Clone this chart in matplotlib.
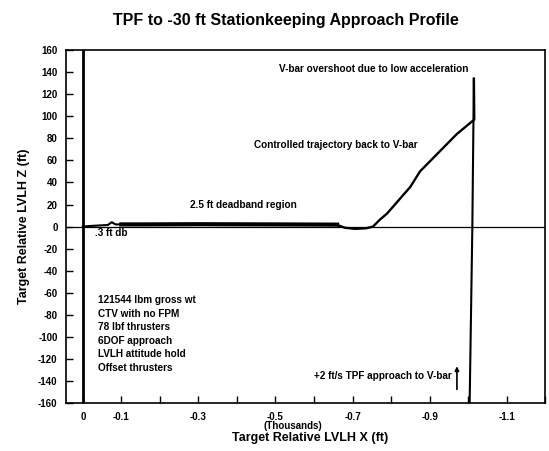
import matplotlib
matplotlib.use("Agg")
import matplotlib.pyplot as plt

plt.rcParams['font.family'] = ['Liberation Sans', 'DejaVu Sans']
plt.rcParams['font.weight'] = 'bold'
plt.rcParams['axes.unicode_minus'] = False

# Approach along the V-bar from below (thousands of ft, ft)
approach_x = [-1.004, -1.011, -1.015]
approach_z = [-160, 0, 134]

# Return after overshoot: controlled trajectory back toward the target
return_x = [-1.015, -1.016, -0.971, -0.875, -0.850, -0.815, -0.790, -0.770,
            -0.753, -0.735, -0.706, -0.680, -0.660]
return_z = [134, 97, 84, 50, 36, 22, 12, 6, 0, -1.5, -2.0, -1.0, 1.5]

# Stationkeeping inside the deadband
deadband_x = [-0.660, -0.500, -0.300, -0.150, -0.100]
deadband_z = [1.8, 2.0, 2.2, 2.0, 2.0]

# Final closure with the small excursion near the target
final_x = [-0.100, -0.085, -0.075, -0.065, -0.040, -0.015, 0.0]
final_z = [2.0, 2.0, 4.0, 1.5, 1.0, 0.5, 0.0]

x_ticks = [0, -0.1, -0.2, -0.3, -0.4, -0.5, -0.6, -0.7, -0.8, -0.9, -1.0, -1.1, -1.2]
x_tick_labels = ['0', '-0.1', '', '-0.3', '', '-0.5', '', '-0.7', '', '-0.9', '', '-1.1', '']
y_ticks = list(range(-160, 161, 20))

info_lines = ["121544 lbm gross wt", "CTV with no FPM", "78 lbf thrusters",
              "6DOF approach", "LVLH attitude hold", "Offset thrusters"]

fig = plt.figure(figsize=(5.49, 4.51), dpi=100)
ax = fig.add_axes([0.120, 0.106, 0.873, 0.783])

ax.set_xlim(0.044, -1.198)
ax.set_ylim(-160, 160)

# reference lines through the target
ax.axhline(0, color='black', lw=0.9, zorder=2)
ax.axvline(0, color='black', lw=2.0, zorder=2)

ax.plot(approach_x, approach_z, color='black', lw=1.5, zorder=3)
ax.plot(return_x, return_z, color='black', lw=1.7, zorder=3)
ax.plot(deadband_x, deadband_z, color='black', lw=3.0, zorder=3)
ax.plot(final_x, final_z, color='black', lw=1.5, zorder=3)

ax.set_xticks(x_ticks)
ax.set_xticklabels(x_tick_labels)
ax.set_yticks(y_ticks)
ax.tick_params(direction='in', length=5, width=1.0, labelsize=7, pad=6)
for lab in ax.get_xticklabels() + ax.get_yticklabels():
    lab.set_fontweight('bold')
for sp in ax.spines.values():
    sp.set_linewidth(1.2)

fs = 7.2
ax.text(-1.000, 142.8, "V-bar overshoot due to low acceleration",
        ha='right', va='center', fontsize=fs, fontweight='bold')
ax.text(-0.870, 73.9, "Controlled trajectory back to V-bar",
        ha='right', va='center', fontsize=fs, fontweight='bold')
ax.text(-0.278, 19.5, "2.5 ft deadband region",
        ha='left', va='center', fontsize=fs, fontweight='bold')
ax.text(-0.031, -5.9, ".3 ft db",
        ha='left', va='center', fontsize=fs, fontweight='bold')
for i, line in enumerate(info_lines):
    ax.text(-0.039, -66.6 - 12.3 * i, line,
            ha='left', va='center', fontsize=fs, fontweight='bold')
ax.text(-0.958, -135.5, "+2 ft/s TPF approach to V-bar",
        ha='right', va='center', fontsize=fs, fontweight='bold')
ax.annotate("", xy=(-0.971, -124), xytext=(-0.971, -150),
            arrowprops=dict(arrowstyle='-|>', color='black', lw=1.2,
                            mutation_scale=6))

fig.text(0.534, 0.055, "(Thousands)", ha='center', va='center',
         fontsize=7, fontweight='bold')
fig.text(0.565, 0.029, "Target Relative LVLH X (ft)", ha='center', va='center',
         fontsize=9, fontweight='bold')
ax.set_ylabel("Target Relative LVLH Z (ft)", fontsize=9,
              fontweight='bold', labelpad=6)

fig.text(0.52, 0.955, "TPF to -30 ft Stationkeeping Approach Profile",
         ha='center', va='center', fontsize=11.5, fontweight='bold')

fig.savefig("out.png", dpi=100)
